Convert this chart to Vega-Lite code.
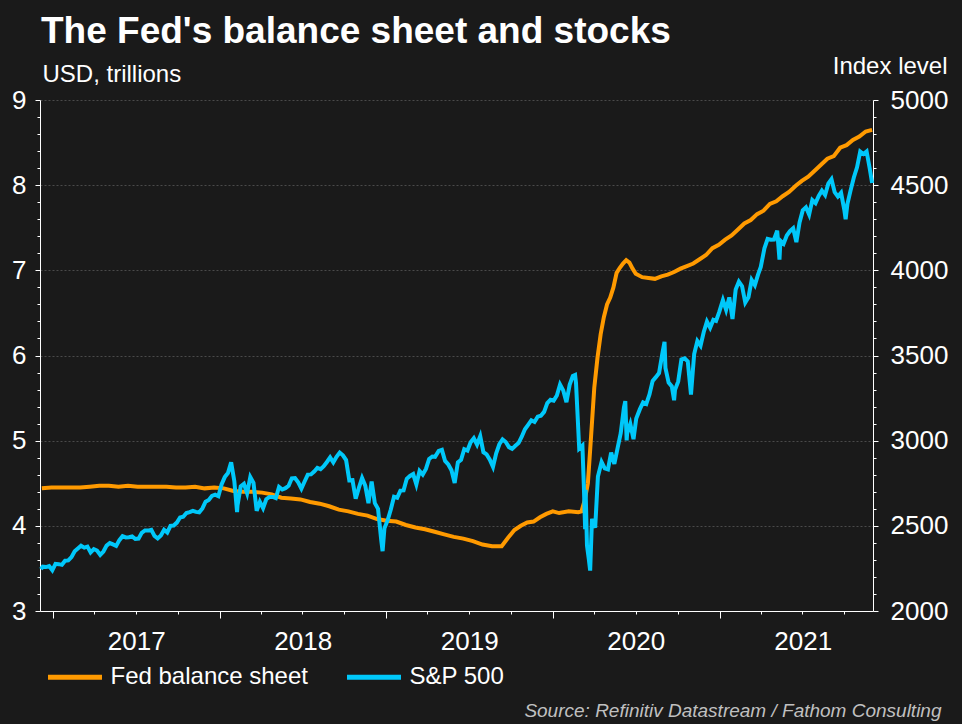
{
  "$schema": "https://vega.github.io/schema/vega-lite/v6.json",
  "width": 833,
  "height": 511,
  "autosize": {"type": "none"},
  "padding": {"left": 40, "top": 100, "right": 89, "bottom": 113},
  "background": "#1a1a1a",
  "title": {
    "text": "The Fed's balance sheet and stocks",
    "anchor": "start",
    "frame": "group",
    "offset": 3,
    "dx": 1,
    "font": "Liberation Sans",
    "fontSize": 37,
    "fontWeight": "bold",
    "color": "#ffffff"
  },
  "config": {
    "view": {"stroke": null},
    "axis": {
      "labelFont": "Liberation Sans",
      "labelFontSize": 26,
      "labelColor": "#ffffff",
      "domainColor": "#ffffff",
      "domainWidth": 1,
      "tickColor": "#ffffff",
      "tickWidth": 1,
      "titleFont": "Liberation Sans",
      "titleColor": "#ffffff",
      "titleFontWeight": "normal",
      "labelOverlap": false,
      "labelFlush": false,
      "labelBound": false
    },
    "legend": {
      "orient": "none",
      "legendX": 5.5,
      "legendY": 547.5,
      "direction": "horizontal",
      "padding": 0,
      "symbolType": "stroke",
      "symbolSize": 2916,
      "symbolStrokeWidth": 5,
      "labelFont": "Liberation Sans",
      "labelFontSize": 24,
      "labelColor": "#ffffff",
      "labelOffset": 6,
      "labelLimit": 400,
      "columnPadding": 28
    }
  },
  "datasets": {
    "fed": [
      {"date": "2016-12-07", "value": 4.44}, {"date": "2016-12-28", "value": 4.45}, {"date": "2017-01-18", "value": 4.45},
      {"date": "2017-02-08", "value": 4.45}, {"date": "2017-03-01", "value": 4.45}, {"date": "2017-03-22", "value": 4.46},
      {"date": "2017-04-12", "value": 4.47}, {"date": "2017-05-03", "value": 4.47}, {"date": "2017-05-24", "value": 4.46},
      {"date": "2017-06-14", "value": 4.47}, {"date": "2017-07-05", "value": 4.46}, {"date": "2017-07-26", "value": 4.46},
      {"date": "2017-08-16", "value": 4.46}, {"date": "2017-09-06", "value": 4.46}, {"date": "2017-09-27", "value": 4.45},
      {"date": "2017-10-18", "value": 4.45}, {"date": "2017-11-08", "value": 4.46}, {"date": "2017-11-29", "value": 4.44},
      {"date": "2017-12-20", "value": 4.45}, {"date": "2018-01-10", "value": 4.44}, {"date": "2018-01-31", "value": 4.41},
      {"date": "2018-02-21", "value": 4.40}, {"date": "2018-03-14", "value": 4.40}, {"date": "2018-04-04", "value": 4.39},
      {"date": "2018-04-25", "value": 4.37}, {"date": "2018-05-16", "value": 4.33}, {"date": "2018-06-06", "value": 4.32},
      {"date": "2018-06-27", "value": 4.31}, {"date": "2018-07-18", "value": 4.28}, {"date": "2018-08-08", "value": 4.26},
      {"date": "2018-08-29", "value": 4.23}, {"date": "2018-09-19", "value": 4.19}, {"date": "2018-10-10", "value": 4.17},
      {"date": "2018-10-31", "value": 4.14}, {"date": "2018-11-21", "value": 4.12}, {"date": "2018-12-12", "value": 4.08},
      {"date": "2019-01-02", "value": 4.06}, {"date": "2019-01-23", "value": 4.05}, {"date": "2019-02-13", "value": 4.01},
      {"date": "2019-03-06", "value": 3.98}, {"date": "2019-03-27", "value": 3.96}, {"date": "2019-04-17", "value": 3.93},
      {"date": "2019-05-08", "value": 3.90}, {"date": "2019-05-29", "value": 3.87}, {"date": "2019-06-19", "value": 3.85},
      {"date": "2019-07-10", "value": 3.82}, {"date": "2019-07-31", "value": 3.78}, {"date": "2019-08-21", "value": 3.76},
      {"date": "2019-09-11", "value": 3.76}, {"date": "2019-09-25", "value": 3.86}, {"date": "2019-10-09", "value": 3.95},
      {"date": "2019-10-23", "value": 4.00}, {"date": "2019-11-06", "value": 4.04}, {"date": "2019-11-20", "value": 4.05},
      {"date": "2019-12-04", "value": 4.10}, {"date": "2019-12-18", "value": 4.14}, {"date": "2020-01-01", "value": 4.17},
      {"date": "2020-01-15", "value": 4.15}, {"date": "2020-02-05", "value": 4.17}, {"date": "2020-02-26", "value": 4.16},
      {"date": "2020-03-04", "value": 4.17}, {"date": "2020-03-11", "value": 4.30}, {"date": "2020-03-18", "value": 4.50},
      {"date": "2020-03-25", "value": 5.05}, {"date": "2020-04-01", "value": 5.62}, {"date": "2020-04-08", "value": 5.97},
      {"date": "2020-04-15", "value": 6.25}, {"date": "2020-04-22", "value": 6.45}, {"date": "2020-04-29", "value": 6.60},
      {"date": "2020-05-06", "value": 6.68}, {"date": "2020-05-13", "value": 6.80}, {"date": "2020-05-20", "value": 6.97},
      {"date": "2020-05-27", "value": 7.03}, {"date": "2020-06-03", "value": 7.08}, {"date": "2020-06-10", "value": 7.12},
      {"date": "2020-06-17", "value": 7.09}, {"date": "2020-06-24", "value": 7.02}, {"date": "2020-07-01", "value": 6.96},
      {"date": "2020-07-15", "value": 6.92}, {"date": "2020-07-29", "value": 6.91}, {"date": "2020-08-12", "value": 6.90},
      {"date": "2020-08-26", "value": 6.93}, {"date": "2020-09-09", "value": 6.95}, {"date": "2020-09-23", "value": 6.98},
      {"date": "2020-10-07", "value": 7.02}, {"date": "2020-10-21", "value": 7.05}, {"date": "2020-11-04", "value": 7.08},
      {"date": "2020-11-18", "value": 7.13}, {"date": "2020-12-02", "value": 7.18}, {"date": "2020-12-16", "value": 7.26},
      {"date": "2020-12-30", "value": 7.30}, {"date": "2021-01-13", "value": 7.36}, {"date": "2021-01-27", "value": 7.41},
      {"date": "2021-02-10", "value": 7.48}, {"date": "2021-02-24", "value": 7.55}, {"date": "2021-03-10", "value": 7.59},
      {"date": "2021-03-24", "value": 7.66}, {"date": "2021-04-07", "value": 7.70}, {"date": "2021-04-21", "value": 7.78},
      {"date": "2021-05-05", "value": 7.81}, {"date": "2021-05-19", "value": 7.87}, {"date": "2021-06-02", "value": 7.92},
      {"date": "2021-06-16", "value": 7.99}, {"date": "2021-06-30", "value": 8.05}, {"date": "2021-07-14", "value": 8.10},
      {"date": "2021-07-28", "value": 8.17}, {"date": "2021-08-11", "value": 8.24}, {"date": "2021-08-25", "value": 8.31},
      {"date": "2021-09-08", "value": 8.34}, {"date": "2021-09-22", "value": 8.44}, {"date": "2021-10-06", "value": 8.47},
      {"date": "2021-10-20", "value": 8.53}, {"date": "2021-11-03", "value": 8.57}, {"date": "2021-11-17", "value": 8.63},
      {"date": "2021-12-01", "value": 8.65}
    ],
    "spx": [
      {"date": "2016-12-05", "value": 2246}, {"date": "2016-12-09", "value": 2260}, {"date": "2016-12-16", "value": 2258},
      {"date": "2016-12-23", "value": 2264}, {"date": "2016-12-30", "value": 2239}, {"date": "2017-01-06", "value": 2277},
      {"date": "2017-01-13", "value": 2275}, {"date": "2017-01-20", "value": 2271}, {"date": "2017-01-27", "value": 2295},
      {"date": "2017-02-03", "value": 2297}, {"date": "2017-02-10", "value": 2316}, {"date": "2017-02-17", "value": 2351},
      {"date": "2017-02-24", "value": 2367}, {"date": "2017-03-03", "value": 2383}, {"date": "2017-03-10", "value": 2372},
      {"date": "2017-03-17", "value": 2378}, {"date": "2017-03-24", "value": 2344}, {"date": "2017-03-31", "value": 2363},
      {"date": "2017-04-07", "value": 2355}, {"date": "2017-04-14", "value": 2329}, {"date": "2017-04-21", "value": 2349},
      {"date": "2017-04-28", "value": 2384}, {"date": "2017-05-05", "value": 2399}, {"date": "2017-05-12", "value": 2391},
      {"date": "2017-05-19", "value": 2382}, {"date": "2017-05-26", "value": 2416}, {"date": "2017-06-02", "value": 2439},
      {"date": "2017-06-09", "value": 2432}, {"date": "2017-06-16", "value": 2433}, {"date": "2017-06-23", "value": 2438},
      {"date": "2017-06-30", "value": 2423}, {"date": "2017-07-07", "value": 2425}, {"date": "2017-07-14", "value": 2459},
      {"date": "2017-07-21", "value": 2473}, {"date": "2017-07-28", "value": 2472}, {"date": "2017-08-04", "value": 2477},
      {"date": "2017-08-11", "value": 2441}, {"date": "2017-08-18", "value": 2426}, {"date": "2017-08-25", "value": 2443},
      {"date": "2017-09-01", "value": 2477}, {"date": "2017-09-08", "value": 2461}, {"date": "2017-09-15", "value": 2500},
      {"date": "2017-09-22", "value": 2502}, {"date": "2017-09-29", "value": 2519}, {"date": "2017-10-06", "value": 2549},
      {"date": "2017-10-13", "value": 2553}, {"date": "2017-10-20", "value": 2575}, {"date": "2017-10-27", "value": 2581},
      {"date": "2017-11-03", "value": 2588}, {"date": "2017-11-10", "value": 2582}, {"date": "2017-11-17", "value": 2579},
      {"date": "2017-11-24", "value": 2602}, {"date": "2017-12-01", "value": 2642}, {"date": "2017-12-08", "value": 2652},
      {"date": "2017-12-15", "value": 2676}, {"date": "2017-12-22", "value": 2683}, {"date": "2017-12-29", "value": 2674},
      {"date": "2018-01-05", "value": 2743}, {"date": "2018-01-12", "value": 2786}, {"date": "2018-01-19", "value": 2810},
      {"date": "2018-01-26", "value": 2873}, {"date": "2018-02-02", "value": 2762}, {"date": "2018-02-08", "value": 2581},
      {"date": "2018-02-09", "value": 2620}, {"date": "2018-02-16", "value": 2732}, {"date": "2018-02-23", "value": 2747},
      {"date": "2018-03-02", "value": 2691}, {"date": "2018-03-09", "value": 2786}, {"date": "2018-03-16", "value": 2752},
      {"date": "2018-03-23", "value": 2588}, {"date": "2018-03-30", "value": 2641}, {"date": "2018-04-06", "value": 2604},
      {"date": "2018-04-13", "value": 2656}, {"date": "2018-04-20", "value": 2670}, {"date": "2018-04-27", "value": 2670},
      {"date": "2018-05-04", "value": 2663}, {"date": "2018-05-11", "value": 2728}, {"date": "2018-05-18", "value": 2713},
      {"date": "2018-05-25", "value": 2721}, {"date": "2018-06-01", "value": 2735}, {"date": "2018-06-08", "value": 2779},
      {"date": "2018-06-15", "value": 2780}, {"date": "2018-06-22", "value": 2755}, {"date": "2018-06-29", "value": 2718},
      {"date": "2018-07-06", "value": 2760}, {"date": "2018-07-13", "value": 2801}, {"date": "2018-07-20", "value": 2802},
      {"date": "2018-07-27", "value": 2819}, {"date": "2018-08-03", "value": 2840}, {"date": "2018-08-10", "value": 2833},
      {"date": "2018-08-17", "value": 2850}, {"date": "2018-08-24", "value": 2875}, {"date": "2018-08-31", "value": 2902},
      {"date": "2018-09-07", "value": 2872}, {"date": "2018-09-14", "value": 2905}, {"date": "2018-09-21", "value": 2930},
      {"date": "2018-09-28", "value": 2914}, {"date": "2018-10-05", "value": 2886}, {"date": "2018-10-12", "value": 2767},
      {"date": "2018-10-19", "value": 2768}, {"date": "2018-10-26", "value": 2659}, {"date": "2018-11-02", "value": 2723},
      {"date": "2018-11-09", "value": 2781}, {"date": "2018-11-16", "value": 2736}, {"date": "2018-11-23", "value": 2633},
      {"date": "2018-11-30", "value": 2760}, {"date": "2018-12-07", "value": 2633}, {"date": "2018-12-14", "value": 2600},
      {"date": "2018-12-21", "value": 2417}, {"date": "2018-12-24", "value": 2351}, {"date": "2018-12-28", "value": 2486},
      {"date": "2019-01-04", "value": 2532}, {"date": "2019-01-11", "value": 2596}, {"date": "2019-01-18", "value": 2671},
      {"date": "2019-01-25", "value": 2665}, {"date": "2019-02-01", "value": 2707}, {"date": "2019-02-08", "value": 2708},
      {"date": "2019-02-15", "value": 2776}, {"date": "2019-02-22", "value": 2793}, {"date": "2019-03-01", "value": 2804},
      {"date": "2019-03-08", "value": 2743}, {"date": "2019-03-15", "value": 2822}, {"date": "2019-03-22", "value": 2801},
      {"date": "2019-03-29", "value": 2834}, {"date": "2019-04-05", "value": 2893}, {"date": "2019-04-12", "value": 2907},
      {"date": "2019-04-18", "value": 2905}, {"date": "2019-04-26", "value": 2940}, {"date": "2019-05-03", "value": 2946},
      {"date": "2019-05-10", "value": 2881}, {"date": "2019-05-17", "value": 2860}, {"date": "2019-05-24", "value": 2826},
      {"date": "2019-05-31", "value": 2752}, {"date": "2019-06-07", "value": 2873}, {"date": "2019-06-14", "value": 2887},
      {"date": "2019-06-21", "value": 2950}, {"date": "2019-06-28", "value": 2942}, {"date": "2019-07-05", "value": 2990},
      {"date": "2019-07-12", "value": 3014}, {"date": "2019-07-19", "value": 2977}, {"date": "2019-07-26", "value": 3026},
      {"date": "2019-08-02", "value": 2932}, {"date": "2019-08-09", "value": 2919}, {"date": "2019-08-16", "value": 2889},
      {"date": "2019-08-23", "value": 2847}, {"date": "2019-08-30", "value": 2926}, {"date": "2019-09-06", "value": 2979},
      {"date": "2019-09-13", "value": 3007}, {"date": "2019-09-20", "value": 2992}, {"date": "2019-09-27", "value": 2962},
      {"date": "2019-10-04", "value": 2952}, {"date": "2019-10-11", "value": 2970}, {"date": "2019-10-18", "value": 2986},
      {"date": "2019-10-25", "value": 3023}, {"date": "2019-11-01", "value": 3067}, {"date": "2019-11-08", "value": 3093},
      {"date": "2019-11-15", "value": 3120}, {"date": "2019-11-22", "value": 3110}, {"date": "2019-11-29", "value": 3141},
      {"date": "2019-12-06", "value": 3146}, {"date": "2019-12-13", "value": 3169}, {"date": "2019-12-20", "value": 3221},
      {"date": "2019-12-27", "value": 3240}, {"date": "2020-01-03", "value": 3235}, {"date": "2020-01-10", "value": 3265},
      {"date": "2020-01-17", "value": 3330}, {"date": "2020-01-24", "value": 3295}, {"date": "2020-01-31", "value": 3226},
      {"date": "2020-02-07", "value": 3328}, {"date": "2020-02-14", "value": 3380}, {"date": "2020-02-19", "value": 3386},
      {"date": "2020-02-21", "value": 3338}, {"date": "2020-02-28", "value": 2954}, {"date": "2020-03-06", "value": 2972},
      {"date": "2020-03-09", "value": 2747}, {"date": "2020-03-12", "value": 2481}, {"date": "2020-03-13", "value": 2711},
      {"date": "2020-03-16", "value": 2386}, {"date": "2020-03-20", "value": 2305}, {"date": "2020-03-23", "value": 2237},
      {"date": "2020-03-27", "value": 2541}, {"date": "2020-04-03", "value": 2489}, {"date": "2020-04-09", "value": 2790},
      {"date": "2020-04-17", "value": 2875}, {"date": "2020-04-24", "value": 2837}, {"date": "2020-05-01", "value": 2831},
      {"date": "2020-05-08", "value": 2930}, {"date": "2020-05-15", "value": 2864}, {"date": "2020-05-22", "value": 2955},
      {"date": "2020-05-29", "value": 3044}, {"date": "2020-06-05", "value": 3194}, {"date": "2020-06-08", "value": 3232},
      {"date": "2020-06-11", "value": 3002}, {"date": "2020-06-12", "value": 3041}, {"date": "2020-06-19", "value": 3098},
      {"date": "2020-06-26", "value": 3009}, {"date": "2020-07-02", "value": 3130}, {"date": "2020-07-10", "value": 3185},
      {"date": "2020-07-17", "value": 3225}, {"date": "2020-07-24", "value": 3216}, {"date": "2020-07-31", "value": 3271},
      {"date": "2020-08-07", "value": 3351}, {"date": "2020-08-14", "value": 3373}, {"date": "2020-08-21", "value": 3397},
      {"date": "2020-08-28", "value": 3508}, {"date": "2020-09-02", "value": 3580}, {"date": "2020-09-04", "value": 3427},
      {"date": "2020-09-11", "value": 3341}, {"date": "2020-09-18", "value": 3319}, {"date": "2020-09-23", "value": 3237},
      {"date": "2020-09-25", "value": 3298}, {"date": "2020-10-02", "value": 3348}, {"date": "2020-10-09", "value": 3477},
      {"date": "2020-10-16", "value": 3484}, {"date": "2020-10-23", "value": 3465}, {"date": "2020-10-30", "value": 3270},
      {"date": "2020-11-06", "value": 3509}, {"date": "2020-11-13", "value": 3585}, {"date": "2020-11-20", "value": 3558},
      {"date": "2020-11-27", "value": 3638}, {"date": "2020-12-04", "value": 3699}, {"date": "2020-12-11", "value": 3663},
      {"date": "2020-12-18", "value": 3709}, {"date": "2020-12-24", "value": 3703}, {"date": "2020-12-31", "value": 3756},
      {"date": "2021-01-08", "value": 3825}, {"date": "2021-01-15", "value": 3768}, {"date": "2021-01-22", "value": 3841},
      {"date": "2021-01-29", "value": 3714}, {"date": "2021-02-05", "value": 3887}, {"date": "2021-02-12", "value": 3934},
      {"date": "2021-02-19", "value": 3907}, {"date": "2021-02-26", "value": 3811}, {"date": "2021-03-05", "value": 3842},
      {"date": "2021-03-12", "value": 3943}, {"date": "2021-03-19", "value": 3913}, {"date": "2021-03-26", "value": 3975},
      {"date": "2021-04-01", "value": 4020}, {"date": "2021-04-09", "value": 4129}, {"date": "2021-04-16", "value": 4185},
      {"date": "2021-04-23", "value": 4180}, {"date": "2021-04-30", "value": 4181}, {"date": "2021-05-07", "value": 4233},
      {"date": "2021-05-12", "value": 4063}, {"date": "2021-05-14", "value": 4174}, {"date": "2021-05-21", "value": 4156},
      {"date": "2021-05-28", "value": 4204}, {"date": "2021-06-04", "value": 4230}, {"date": "2021-06-11", "value": 4247},
      {"date": "2021-06-18", "value": 4166}, {"date": "2021-06-25", "value": 4281}, {"date": "2021-07-02", "value": 4352},
      {"date": "2021-07-09", "value": 4370}, {"date": "2021-07-16", "value": 4327}, {"date": "2021-07-23", "value": 4412},
      {"date": "2021-07-30", "value": 4395}, {"date": "2021-08-06", "value": 4437}, {"date": "2021-08-13", "value": 4468},
      {"date": "2021-08-20", "value": 4442}, {"date": "2021-08-27", "value": 4509}, {"date": "2021-09-03", "value": 4535},
      {"date": "2021-09-10", "value": 4459}, {"date": "2021-09-17", "value": 4433}, {"date": "2021-09-24", "value": 4455},
      {"date": "2021-10-01", "value": 4357}, {"date": "2021-10-04", "value": 4300}, {"date": "2021-10-08", "value": 4391},
      {"date": "2021-10-15", "value": 4471}, {"date": "2021-10-22", "value": 4545}, {"date": "2021-10-29", "value": 4605},
      {"date": "2021-11-05", "value": 4697}, {"date": "2021-11-12", "value": 4683}, {"date": "2021-11-19", "value": 4698},
      {"date": "2021-11-26", "value": 4595}, {"date": "2021-12-01", "value": 4513}
    ]
  },
  "encoding": {
    "x": {
      "field": "date",
      "type": "temporal",
      "scale": {"type": "utc", "domain": ["2016-12-03", "2021-12-03"]},
      "axis": {
        "title": "Source: Refinitiv Datastream / Fathom Consulting",
        "titleFont": "Liberation Sans",
        "titleFontSize": 19,
        "titleFontStyle": "italic",
        "titleColor": "#c0c0c0",
        "titleAlign": "right",
        "titleBaseline": "alphabetic",
        "titleAnchor": null,
        "titleX": 901,
        "titleY": 105,
        "tickCount": {"interval": "month", "step": 3},
        "labelExpr": "utcmonth(datum.value) == 0 ? utcFormat(datum.value, '%Y') : ''",
        "labelOffset": 83,
        "labelPadding": 10,
        "labelAlign": "center",
        "tickSize": {"condition": {"test": "utcmonth(datum.value) == 0", "value": 7}, "value": 3},
        "grid": false
      }
    }
  },
  "layer": [
    {
      "data": {"name": "fed"},
      "mark": {"type": "line", "strokeWidth": 4, "interpolate": "linear"},
      "encoding": {
        "y": {
          "field": "value",
          "type": "quantitative",
          "scale": {"domain": [3, 9], "nice": false, "zero": false},
          "axis": {
            "orient": "left",
            "title": "USD, trillions",
            "titleAngle": 0,
            "titleAlign": "left",
            "titleBaseline": "alphabetic",
            "titleAnchor": null,
            "titleFontSize": 24,
            "titleX": 2,
            "titleY": -19,
            "values": [3, 3.2, 3.4, 3.6, 3.8, 4, 4.2, 4.4, 4.6, 4.8, 5, 5.2, 5.4, 5.6, 5.8, 6, 6.2, 6.4, 6.6, 6.8, 7, 7.2, 7.4, 7.6, 7.8, 8, 8.2, 8.4, 8.6, 8.8, 9],
            "labelExpr": "abs(datum.value - round(datum.value)) < 0.01 ? format(datum.value, '.0f') : ''",
            "labelPadding": 9,
            "tickSize": {"condition": {"test": "abs(datum.value - round(datum.value)) < 0.01", "value": 5}, "value": 3},
            "grid": true,
            "gridColor": "#4a4a4a",
            "gridDash": [2, 2],
            "gridWidth": 1,
            "gridOpacity": {"condition": {"test": "abs(datum.value - round(datum.value)) < 0.01", "value": 1}, "value": 0}
          }
        },
        "color": {
          "datum": "Fed balance sheet",
          "scale": {"domain": ["Fed balance sheet", "S&P 500"], "range": ["#ff9a00", "#00c8fa"]},
          "legend": {"title": null}
        }
      }
    },
    {
      "data": {"name": "spx"},
      "mark": {"type": "line", "strokeWidth": 4, "interpolate": "linear"},
      "encoding": {
        "y": {
          "field": "value",
          "type": "quantitative",
          "scale": {"domain": [2000, 5000], "nice": false, "zero": false},
          "axis": {
            "orient": "right",
            "title": "Index level",
            "titleAngle": 0,
            "titleAlign": "right",
            "titleBaseline": "alphabetic",
            "titleAnchor": null,
            "titleFontSize": 24,
            "titleX": 74,
            "titleY": -27,
            "values": [2000, 2100, 2200, 2300, 2400, 2500, 2600, 2700, 2800, 2900, 3000, 3100, 3200, 3300, 3400, 3500, 3600, 3700, 3800, 3900, 4000, 4100, 4200, 4300, 4400, 4500, 4600, 4700, 4800, 4900, 5000],
            "labelExpr": "datum.value % 500 == 0 ? format(datum.value, 'd') : ''",
            "labelPadding": 12,
            "tickSize": {"condition": {"test": "datum.value % 500 == 0", "value": 5}, "value": 3},
            "grid": false
          }
        },
        "color": {"datum": "S&P 500"}
      }
    }
  ],
  "resolve": {"scale": {"y": "independent"}}
}
